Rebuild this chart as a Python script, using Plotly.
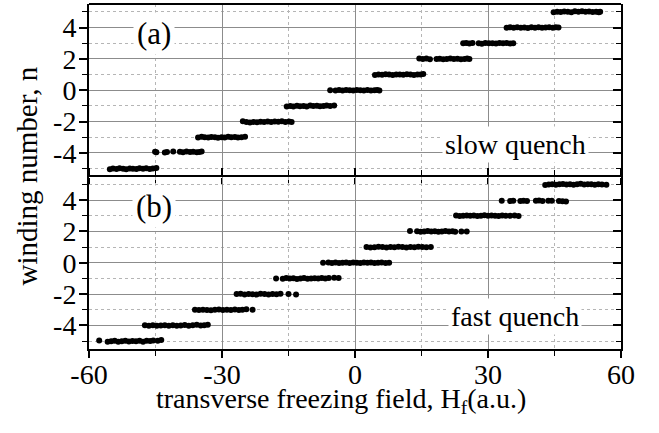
import plotly.graph_objects as go
from plotly.subplots import make_subplots

# ---------------- data ----------------
levels = [-5, -4, -3, -2, -1, 0, 1, 2, 3, 4, 5]

slow_x = [
    [-55.3, -54.6, -53.8, -53.1, -52.3, -51.6, -50.8, -50.1, -49.3, -48.6, -47.8, -47.1, -46.3, -45.6, -44.8],
    [-45.1, -44.8, -42.9, -42.4, -41.0, -39.5, -38.8, -38.0, -37.2, -36.5, -35.7, -35.1, -34.6],
    [-35.4, -34.6, -33.9, -33.1, -32.4, -31.6, -30.9, -30.1, -29.4, -28.6, -27.9, -27.1, -26.4, -25.6, -24.8],
    [-25.3, -24.5, -23.7, -22.9, -22.1, -21.3, -20.5, -19.7, -18.9, -18.1, -17.3, -16.5, -15.7, -14.9, -14.3],
    [-15.4, -14.6, -13.9, -13.1, -12.4, -11.6, -10.9, -10.1, -9.4, -8.6, -7.9, -7.1, -6.4, -5.6, -4.7],
    [-5.6, -4.4, -3.6, -2.8, -2.0, -1.2, -0.4, 0.4, 1.2, 2.0, 2.8, 3.6, 4.4, 5.0, 5.5],
    [4.5, 5.3, 6.1, 6.9, 7.7, 8.5, 9.3, 10.1, 10.9, 11.7, 12.5, 13.3, 14.1, 14.8, 15.4],
    [14.5, 15.3, 16.1, 16.9, 18.4, 19.1, 19.9, 20.7, 21.5, 22.3, 23.1, 23.9, 24.7, 25.3, 25.8],
    [24.4, 25.1, 25.8, 26.5, 27.9, 28.6, 29.4, 30.2, 31.0, 31.8, 32.6, 33.4, 34.2, 35.0, 35.7],
    [34.2, 35.0, 35.8, 36.6, 37.4, 38.2, 39.0, 39.8, 40.6, 41.4, 42.2, 43.0, 43.8, 44.6, 45.3, 45.9],
    [44.8, 45.6, 46.4, 47.2, 48.0, 48.8, 49.6, 50.4, 51.2, 52.0, 52.8, 53.6, 54.4, 55.0, 55.3],
]
slow_y = [
    [-5.03, -4.99, -5.02, -4.98, -5.01, -5.03, -4.99, -5.0, -5.02, -4.98, -5.01, -4.97, -5.02, -4.99, -4.95],
    [-3.92, -3.95, -3.97, -3.93, -3.90, -3.92, -3.95, -3.91, -3.94, -3.92, -3.96, -3.93, -3.90],
    [-3.02, -2.97, -2.99, -3.01, -2.98, -3.0, -3.03, -2.99, -3.01, -2.97, -3.0, -2.98, -3.02, -2.99, -2.96],
    [-1.98, -2.03, -2.05, -2.02, -2.04, -2.01, -2.03, -2.0, -2.02, -1.99, -2.01, -1.98, -2.02, -2.0, -2.03],
    [-1.04, -1.01, -1.03, -0.99, -1.02, -1.0, -1.03, -0.98, -1.01, -0.99, -1.02, -1.0, -0.98, -1.01, -0.97],
    [0.0, -0.02, 0.01, -0.01, 0.02, 0.0, -0.02, 0.01, 0.0, -0.01, 0.02, -0.01, 0.0, 0.01, -0.02],
    [0.97, 1.01, 0.99, 1.02, 1.0, 0.98, 1.01, 1.0, 0.99, 1.02, 1.0, 0.98, 1.01, 1.0, 1.03],
    [2.03, 2.0, 2.02, 1.98, 1.99, 2.01, 1.98, 2.0, 2.02, 1.99, 2.01, 1.98, 2.0, 2.02, 1.99],
    [2.99, 3.02, 2.98, 3.01, 3.0, 2.97, 3.01, 2.99, 3.0, 2.98, 3.02, 2.99, 3.01, 2.98, 3.0],
    [3.98, 4.01, 3.99, 4.02, 3.98, 4.0, 3.97, 4.01, 3.99, 4.02, 3.98, 4.0, 4.01, 3.99, 4.02, 4.0],
    [4.98, 5.01, 4.99, 5.02, 5.0, 4.98, 5.03, 5.01, 5.04, 5.0, 5.02, 4.99, 5.01, 4.98, 5.0],
]

fast_x = [
    [-57.7, -55.8, -55.0, -54.2, -53.4, -52.6, -51.8, -51.0, -50.2, -49.4, -48.6, -47.8, -47.0, -46.2, -45.5, -44.5, -43.7],
    [-47.4, -46.5, -45.6, -44.7, -43.8, -42.9, -42.0, -41.1, -40.2, -39.3, -38.4, -37.5, -36.6, -35.7, -34.8, -34.0, -33.2],
    [-36.1, -35.2, -34.3, -33.4, -32.5, -31.6, -30.7, -29.8, -28.9, -28.0, -27.1, -26.2, -25.4, -24.5, -23.1],
    [-26.7, -25.8, -24.9, -24.0, -23.1, -22.2, -21.3, -20.4, -19.5, -18.6, -17.7, -16.8, -15.0, -13.3],
    [-17.8, -16.3, -15.5, -14.7, -13.9, -13.1, -12.3, -11.5, -10.7, -9.9, -9.1, -8.3, -7.5, -6.7, -5.9, -4.7, -3.7],
    [-7.2, -6.0, -5.2, -4.4, -3.6, -2.8, -2.0, -1.2, -0.4, 0.4, 1.2, 2.0, 2.8, 3.6, 4.4, 5.2, 6.0, 6.9, 7.7],
    [2.6, 3.5, 4.4, 5.3, 6.2, 7.1, 8.0, 8.9, 9.8, 10.7, 11.6, 12.5, 13.4, 14.3, 15.2, 16.1, 17.1],
    [12.4, 14.0, 14.8, 15.6, 16.4, 17.2, 18.0, 18.8, 19.6, 20.4, 21.2, 22.0, 22.6, 24.0, 25.2],
    [22.8, 23.6, 24.4, 25.2, 26.0, 26.8, 27.6, 28.4, 29.2, 30.0, 30.8, 31.6, 32.4, 33.2, 34.0, 35.0, 36.0, 36.9],
    [33.1, 35.0, 35.7, 37.3, 38.0, 38.8, 40.8, 41.5, 42.3, 43.6, 44.4, 46.0, 46.8, 47.6],
    [42.9, 43.7, 44.5, 45.3, 46.1, 46.9, 47.7, 48.5, 49.3, 50.1, 50.9, 51.7, 52.5, 53.3, 54.1, 54.9, 55.7, 56.7],
]
fast_y = [
    [-4.96, -5.04, -5.01, -4.98, -5.03, -5.0, -4.97, -5.02, -4.99, -5.01, -4.98, -5.03, -4.97, -4.99, -4.95, -4.97, -4.93],
    [-3.98, -4.01, -3.99, -4.02, -4.0, -3.98, -4.01, -3.99, -4.02, -4.0, -3.97, -4.01, -3.99, -3.96, -4.0, -3.98, -3.95],
    [-3.0, -3.02, -2.99, -3.01, -3.03, -3.0, -2.98, -3.02, -3.0, -3.01, -2.98, -3.02, -3.0, -2.97, -3.0],
    [-2.0, -1.97, -2.02, -1.99, -2.01, -2.03, -1.98, -2.0, -2.02, -1.99, -2.01, -1.98, -2.0, -2.02],
    [-1.0, -1.02, -0.98, -1.01, -0.99, -1.03, -1.0, -0.98, -1.02, -1.0, -0.99, -1.01, -0.98, -1.0, -0.97, -0.95, -0.98],
    [0.0, 0.02, -0.01, 0.01, -0.02, 0.0, 0.02, -0.01, 0.01, 0.0, -0.02, 0.01, 0.0, 0.02, -0.01, 0.0, 0.01, -0.01, 0.0],
    [1.01, 0.97, 0.99, 1.02, 1.0, 0.98, 1.01, 0.99, 1.02, 1.0, 0.98, 1.01, 0.99, 1.02, 1.0, 0.99, 1.01],
    [2.03, 2.01, 1.98, 2.0, 2.02, 1.99, 2.01, 1.98, 2.0, 2.02, 1.99, 2.01, 1.97, 2.0, 2.0],
    [3.01, 2.98, 3.0, 3.02, 2.99, 3.01, 2.98, 3.0, 3.03, 2.99, 3.01, 3.0, 2.98, 3.02, 3.0, 2.99, 3.01, 2.98],
    [3.95, 3.93, 3.95, 3.94, 3.96, 3.94, 3.95, 3.97, 3.94, 3.96, 3.95, 3.94, 3.92, 3.91],
    [4.96, 4.99, 5.01, 4.98, 5.0, 5.02, 4.99, 5.01, 4.98, 5.0, 5.03, 4.99, 5.01, 5.0, 4.98, 5.01, 4.99, 4.98],
]

x_ticks = [-60, -30, 0, 30, 60]
x_ticktext = ["-60", "-30", "0", "30", "60"]
y_ticks = [-4, -2, 0, 2, 4]
y_ticktext = ["-4", "-2", "0", "2", "4"]
x_minor = [-45, -15, 15, 45]
y_minor = [-5, -3, -1, 1, 3, 5]
panel_labels = ["(a)", "(b)"]
panel_notes = ["slow quench", "fast quench"]

# ---------------- figure ----------------
FONT = "Liberation Serif"
fig = make_subplots(rows=2, cols=1, shared_xaxes=True, vertical_spacing=0)

def flat(lists):
    return [v for sub in lists for v in sub]

fig.add_trace(go.Scatter(x=flat(slow_x), y=flat(slow_y), mode="markers",
                         marker=dict(color="black", size=6), showlegend=False), row=1, col=1)
fig.add_trace(go.Scatter(x=flat(fast_x), y=flat(fast_y), mode="markers",
                         marker=dict(color="black", size=6), showlegend=False), row=2, col=1)

# invisible traces for right-hand inward tick axes
fig.add_trace(go.Scatter(x=[None], y=[None], xaxis="x", yaxis="y3", showlegend=False, hoverinfo="skip"))
fig.add_trace(go.Scatter(x=[None], y=[None], xaxis="x2", yaxis="y4", showlegend=False, hoverinfo="skip"))

major_grid = "#8c8c8c"
minor_grid = "#b5b5b5"

xcommon = dict(range=[-60, 60], tickmode="array", tickvals=x_ticks, ticktext=x_ticktext,
               showgrid=True, gridcolor=major_grid, gridwidth=1, automargin=False,
               linecolor="black", linewidth=2,
               ticks="outside", ticklen=7, tickwidth=1.5, tickcolor="black",
               zeroline=False, ticklabelstandoff=-8,
               minor=dict(tickmode="array", tickvals=x_minor, showgrid=True,
                          gridcolor=minor_grid, griddash="dot", gridwidth=1,
                          ticks="outside", ticklen=5, tickcolor="black", tickwidth=1.2),
               tickfont=dict(family=FONT, size=28, color="black"))
ycommon = dict(range=[-5.5, 5.5], tickmode="array", tickvals=y_ticks, ticktext=y_ticktext,
               showgrid=True, gridcolor=major_grid, gridwidth=1, automargin=False,
               showline=True, linecolor="black", linewidth=2, mirror=True,
               ticks="outside", ticklen=8, tickwidth=1.5, tickcolor="black",
               zeroline=False, ticklabelstandoff=-3,
               minor=dict(tickmode="array", tickvals=y_minor, showgrid=True,
                          gridcolor=minor_grid, griddash="dot", gridwidth=1,
                          ticks="outside", ticklen=5, tickcolor="black", tickwidth=1.2),
               tickfont=dict(family=FONT, size=28, color="black"))

fig.update_xaxes(**xcommon)
fig.update_yaxes(**ycommon)
# top panel x-axis: no line (top border drawn as shape), ticks down across the middle border
fig.update_xaxes(showticklabels=False, showline=False, row=1, col=1)
# bottom panel x-axis: bottom line + mirrored line/ticks at middle border
fig.update_xaxes(showline=True, mirror="ticks", row=2, col=1)

right_axis = dict(side="right", range=[-5.5, 5.5], automargin=False,
                  tickmode="array", tickvals=y_ticks, showticklabels=False, showgrid=False,
                  zeroline=False, showline=False, ticks="inside", ticklen=8, tickwidth=1.5,
                  tickcolor="black",
                  minor=dict(tickmode="array", tickvals=y_minor,
                             ticks="inside", ticklen=5, tickcolor="black", tickwidth=1.2, showgrid=False))

fig.update_layout(
    yaxis=dict(domain=[0.5, 1.0]),
    yaxis2=dict(domain=[0.0, 0.5]),
    yaxis3=dict(overlaying="y", anchor="x", **right_axis),
    yaxis4=dict(overlaying="y2", anchor="x2", **right_axis),
)

# top border of the upper panel
fig.add_shape(type="line", xref="paper", yref="paper", x0=0, x1=1, y0=1, y1=1,
              line=dict(color="black", width=2))

# axis titles
fig.add_annotation(x=0, y=0.5, xref="paper", yref="paper", xanchor="center", yanchor="middle",
                   xshift=-63, text="winding number, n", textangle=-90, showarrow=False,
                   font=dict(family=FONT, size=29, color="black"))
fig.add_annotation(x=0.5, y=0, xref="paper", yref="paper", xanchor="center", yanchor="middle",
                   yshift=-51, xshift=-14, text="transverse freezing field, H<sub>f</sub>(a.u.)",
                   showarrow=False, font=dict(family=FONT, size=28, color="black"))

# panel labels
for i, (lab, note) in enumerate(zip(panel_labels, panel_notes)):
    xr = "x" if i == 0 else "x2"
    yr = "y" if i == 0 else "y2"
    fig.add_annotation(x=-45.4, y=3.6, xref=xr, yref=yr, text=lab, showarrow=False,
                       bgcolor="white", borderpad=3,
                       font=dict(family=FONT, size=31, color="black"))
    fig.add_annotation(x=36.2, y=-3.45, xref=xr, yref=yr, text=note, showarrow=False,
                       bgcolor="white", borderpad=2,
                       font=dict(family=FONT, size=28, color="black"))

fig.update_layout(
    width=659, height=433,
    margin=dict(l=89, r=38, t=4, b=84, autoexpand=False),
    paper_bgcolor="white", plot_bgcolor="white",
    showlegend=False,
)

fig.write_html("out.html", config={"displayModeBar": False},
               post_script="document.body.style.margin='0px';document.body.style.overflow='hidden';")
